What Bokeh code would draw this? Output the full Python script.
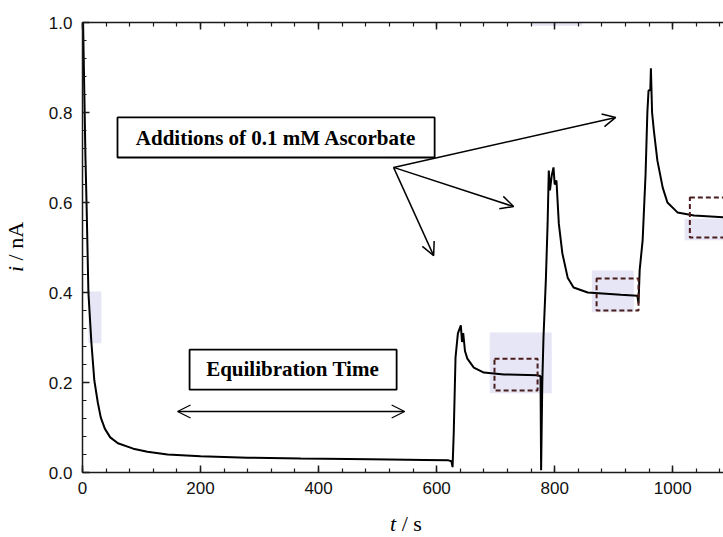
from bokeh.plotting import figure
from bokeh.models import (Range1d, LinearAxis, SingleIntervalTicker, PrintfTickFormatter,
                          CustomJSTickFormatter, Label, Arrow, OpenHead, ColumnDataSource, Div)
from bokeh.layouts import row, column
from bokeh.embed import file_html
from bokeh.resources import INLINE

# ---- data ----
time_s = [1, 3, 5, 7, 10, 15, 20, 26, 31, 38, 47, 60, 86, 110, 144, 200, 280, 370, 450, 520,
          580, 620, 625, 627, 629, 632, 636, 641, 643, 645, 648, 652, 663, 680, 714, 771, 776,
          777, 779, 781, 785, 788, 790, 792, 795, 798, 800, 803, 807, 813, 822, 832, 856, 912,
          940, 942, 944, 949, 954, 957, 959, 962, 963, 965, 968, 974, 983, 991, 1008, 1036, 1086]
current_nA = [1.0, 0.85, 0.70, 0.59, 0.40, 0.29, 0.205, 0.155, 0.122, 0.097, 0.078, 0.065, 0.053,
              0.046, 0.040, 0.036, 0.033, 0.031, 0.030, 0.029, 0.028, 0.027, 0.025, 0.012, 0.09,
              0.256, 0.309, 0.327, 0.29, 0.31, 0.27, 0.253, 0.233, 0.222, 0.218, 0.216, 0.214,
              0.005, 0.2, 0.30, 0.427, 0.553, 0.671, 0.627, 0.66, 0.678, 0.64, 0.649, 0.553, 0.487,
              0.433, 0.411, 0.400, 0.395, 0.393, 0.376, 0.45, 0.516, 0.664, 0.80, 0.849, 0.85,
              0.898, 0.80, 0.76, 0.693, 0.633, 0.60, 0.578, 0.571, 0.567]

x_major_step = 200
y_major_step = 0.2
annotation_1 = "Additions of 0.1 mM Ascorbate"
annotation_2 = "Equilibration Time"
x_title_html = "<i>t</i> / s"
y_title_html = "<i>i</i> / nA"

# highlighted (scan) regions and dashed boxes: left, right, top, bottom
shade_left = [690, 863, 1020, 10, 759, 515]
shade_right = [795, 934, 1120, 32, 847, 586]
shade_top = [0.311, 0.449, 0.564, 0.402, 1.02, 0.72]
shade_bottom = [0.176, 0.356, 0.516, 0.287, 0.993, 0.698]
dash_left = [698, 871, 1029]
dash_right = [771, 942, 1120]
dash_top = [0.253, 0.431, 0.611]
dash_bottom = [0.182, 0.360, 0.522]

p = figure(width=693, height=510, x_range=Range1d(0, 1086), y_range=Range1d(0, 1.0),
           output_backend="svg", toolbar_location=None, margin=0,
           min_border_left=52, min_border_right=0, min_border_top=22, min_border_bottom=38)
p.outline_line_color = None
p.xgrid.visible = False
p.ygrid.visible = False
p.background_fill_color = "white"
p.border_fill_color = "white"

AX = "#1a1a1a"

def style_axis(ax):
    ax.axis_line_color = AX
    ax.axis_line_width = 1.5
    ax.major_tick_line_color = AX
    ax.minor_tick_line_color = AX
    ax.major_tick_line_width = 1.5
    ax.minor_tick_line_width = 1.2
    ax.major_tick_in = 7
    ax.major_tick_out = 0
    ax.minor_tick_in = 4
    ax.minor_tick_out = 0
    ax.major_label_text_font = "Liberation Sans"
    ax.major_label_text_color = "#111111"
    ax.major_label_text_font_size = "17px"

xa = p.xaxis[0]
xa.ticker = SingleIntervalTicker(interval=x_major_step, num_minor_ticks=5)
style_axis(xa)
xa.major_label_standoff = 9

ya = p.yaxis[0]
ya.ticker = SingleIntervalTicker(interval=y_major_step, num_minor_ticks=5)
ya.formatter = PrintfTickFormatter(format="%.1f")
style_axis(ya)
ya.major_label_standoff = 10

top = LinearAxis(ticker=SingleIntervalTicker(interval=x_major_step, num_minor_ticks=5),
                 formatter=CustomJSTickFormatter(code="return ''"))
style_axis(top)
top.major_label_standoff = 0
p.add_layout(top, "above")

# shaded scan regions
p.quad(left=shade_left, right=shade_right, top=shade_top, bottom=shade_bottom,
       fill_color="#e6e6f6", line_color=None)

src = ColumnDataSource(dict(t=time_s, i=current_nA))
p.line("t", "i", source=src, line_color="black", line_width=2)

# dashed boxes
p.quad(left=dash_left, right=dash_right, top=dash_top, bottom=dash_bottom,
       fill_color=None, line_color="#4a1c1c", line_width=2, line_dash="5 3")

# annotation boxes
p.quad(left=[59.3, 181.4], right=[596.6, 532.2], top=[0.789, 0.273], bottom=[0.700, 0.184],
       fill_color="white", line_color="black", line_width=1.8)
for txt, x, y in [(annotation_1, 328, 0.744), (annotation_2, 356, 0.229)]:
    p.add_layout(Label(x=x, y=y, text=txt, text_align="center", text_baseline="middle",
                       text_font="Liberation Serif", text_font_style="bold",
                       text_font_size="21px", text_color="black"))

# arrows
for xe, ye in [(903.4, 0.789), (730.5, 0.591), (594.9, 0.482)]:
    p.add_layout(Arrow(end=OpenHead(size=13, line_width=1.5, line_color="black"),
                       x_start=527, y_start=0.678, x_end=xe, y_end=ye,
                       line_width=1.5, line_color="black"))
p.add_layout(Arrow(start=OpenHead(size=13, line_width=1.3), end=OpenHead(size=13, line_width=1.3),
                   x_start=161, y_start=0.1356, x_end=545.8, y_end=0.1356,
                   line_width=1.3, line_color="black"))

# axis titles (mixed italic / upright) as HTML
font_css = "font-family:'Liberation Serif',serif;font-size:22px;line-height:22px;color:#000;white-space:nowrap;"
ydiv = Div(width=30, height=510, margin=0,
           text=('<div style="position:relative;left:5px;top:272px;display:inline-block;'
                 'transform:rotate(-90deg);transform-origin:left top;' + font_css + '">'
                 + y_title_html + '</div>'))
xdiv = Div(width=723, height=26, margin=0,
           text=('<div style="position:relative;left:390px;top:3px;display:inline-block;'
                 + font_css + '">' + x_title_html + '</div>'))

layout = column(row(ydiv, p, spacing=0), xdiv, spacing=0)
open("out.html", "w").write(file_html(layout, INLINE))
